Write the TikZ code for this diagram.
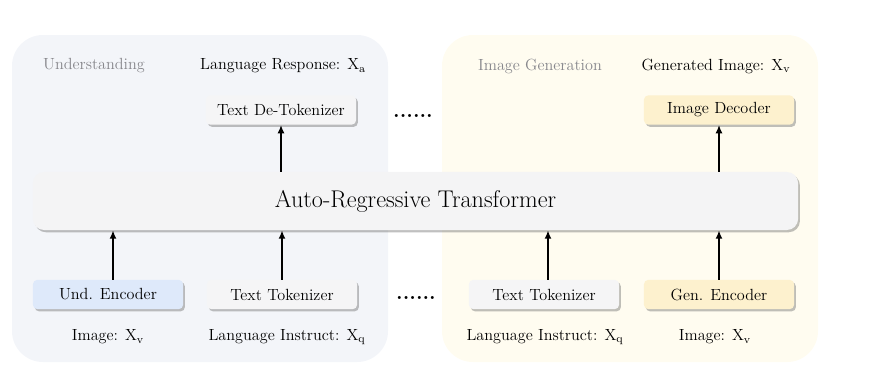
\documentclass[tikz,border=0pt]{standalone}
\usepackage{tikz}
\usetikzlibrary{arrows.meta,positioning,shadows}
\definecolor{undpanel}{RGB}{243,245,249}
\definecolor{genpanel}{RGB}{255,252,240}
\definecolor{boxgray}{RGB}{245,245,246}
\definecolor{argray}{RGB}{244,244,245}
\definecolor{boxblue}{RGB}{222,233,250}
\definecolor{boxyellow}{RGB}{253,241,206}
\definecolor{labelgray}{RGB}{135,135,140}

\begin{document}
\begin{tikzpicture}[x=0.025cm, y=-0.025cm,
  panel/.style={rounded corners=22pt},
  b/.style={rectangle, rounded corners=3pt, fill=boxgray, minimum width=3.75cm, minimum height=0.73cm,
    font=\fontsize{11.5}{13}\selectfont,
    drop shadow={shadow xshift=1.3pt, shadow yshift=-1.6pt, opacity=0.45, fill=black!55}},
  lbl/.style={font=\fontsize{11.5}{13}\selectfont},
  head/.style={lbl, text=labelgray},
  dots/.style={font=\bfseries\fontsize{15}{16}\selectfont},
  up/.style={-{Latex[length=6pt,width=5pt]}, line width=1.2pt}
]
  \useasboundingbox (0,0) rectangle (872,376);

  % the two panels
  \fill[undpanel, panel] (12,35) rectangle (388,362);
  \fill[genpanel, panel] (442,35) rectangle (818,362);

  % headings
  \node[head] (und) at (94,66) {Understanding};
  \node[lbl] (resp) at (283,66) {Language Response: X$_{\mathrm{a}}$};
  \node[head] (gen) at (540,66) {Image Generation};
  \node[lbl] (genimg) at (716,66) {Generated Image: X$_{\mathrm{v}}$};

  % output boxes
  \node[b] (detok) at (281,110) {Text De-Tokenizer};
  \node[b, fill=boxyellow] (dec) at (719,110) {Image Decoder};
  \node[dots] (dtop) at (413,116) {......};

  % transformer
  \node[b, rounded corners=8pt, fill=argray, minimum width=19.125cm, minimum height=1.45cm,
    font=\fontsize{17.2}{19}\selectfont] (ar) at (415.5,201) {Auto-Regressive Transformer};

  % input boxes
  \node[b, fill=boxblue] (undenc) at (108,294.5) {Und. Encoder};
  \node[b] (tok1) at (282,294.5) {Text Tokenizer};
  \node[b] (tok2) at (544,294.5) {Text Tokenizer};
  \node[b, fill=boxyellow] (genenc) at (719,294.5) {Gen. Encoder};
  \node[dots] (dbot) at (416,298) {......};

  % input labels
  \node[lbl] (img1) at (108,337) {Image: X$_{\mathrm{v}}$};
  \node[lbl] (ins1) at (287,337) {Language Instruct: X$_{\mathrm{q}}$};
  \node[lbl] (ins2) at (545,337) {Language Instruct: X$_{\mathrm{q}}$};
  \node[lbl] (img2) at (715,337) {Image: X$_{\mathrm{v}}$};

  % arrows
  \draw[up] (undenc.north -| 113,0) -- (ar.south -| 113,0);
  \draw[up] (tok1.north) -- (tok1.north |- ar.south);
  \draw[up] (tok2.north -| 548,0) -- (ar.south -| 548,0);
  \draw[up] (genenc.north) -- (genenc.north |- ar.south);
  \draw[up] (detok.south |- ar.north) -- (detok.south);
  \draw[up] (dec.south |- ar.north) -- (dec.south);
\end{tikzpicture}
\end{document}
